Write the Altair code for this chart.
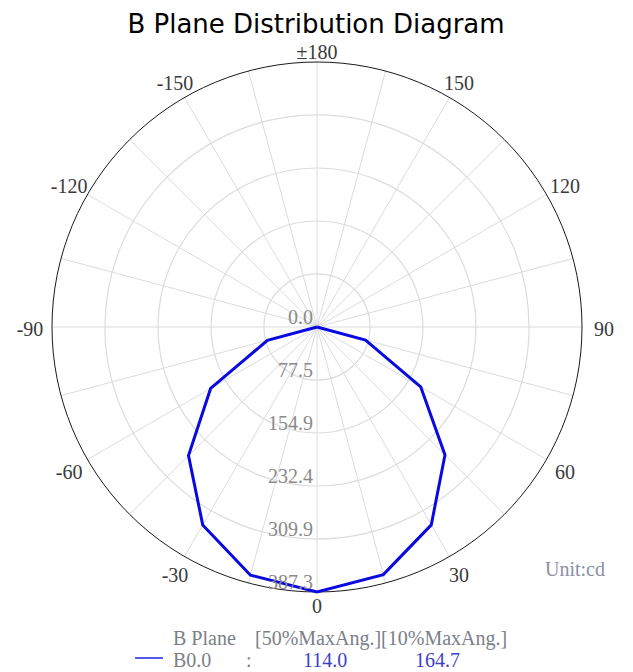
import altair as alt
import pandas as pd

# ---------------- data ----------------
title_text = "B Plane Distribution Diagram"
max_value = 387.3

# B0.0 plane intensity (cd), angle in degrees
angles = list(range(-180, 181, 15))
intensity = [0, 0, 0, 0, 0, 0, 0,
             75.0, 179.5, 265.6, 334.0, 375.5,
             387.3,
             374.6, 334.0, 264.5, 175.0, 73.4,
             0, 0, 0, 0, 0, 0, 0]

ring_values = [77.5, 154.9, 232.4, 309.9]
ring_label_values = [0.0, 77.5, 154.9, 232.4, 309.9, 387.3]
spoke_angles = list(range(0, 360, 15))
angle_label_values = [-150, -120, -90, -60, -30, 0, 30, 60, 90, 120, 150, 180]
angle_label_texts = ["-150", "-120", "-90", "-60", "-30", "0",
                     "30", "60", "90", "120", "150", "\u00b1180"]

legend_header = ["B Plane", "[50%MaxAng.][10%MaxAng.]"]
legend_series = ["B0.0", ":"]
beam_angles = [114.0, 164.7]
unit_text = "Unit:cd"

# ---------------- layout ----------------
R_PX = 265
W = 2 * R_PX
serif = "Liberation Serif"
k = max_value / R_PX  # data units per pixel

xs = alt.Scale(domain=[-max_value, max_value], nice=False, zero=False)
ys = alt.Scale(domain=[-max_value, max_value], nice=False, zero=False)
# circle symbol: radius = sqrt(size)/2  ->  size = (2 r)^2
ss = alt.Scale(type="pow", exponent=2, domain=[0, max_value],
               range=[0, (2 * R_PX) ** 2], zero=True)

curve_df = pd.DataFrame({"angle": angles, "cd": intensity})
spoke_df = pd.DataFrame({"angle": spoke_angles})
ring_df = pd.DataFrame({"r": ring_values})
outer_df = pd.DataFrame({"r": [max_value]})
rlab_df = pd.DataFrame({"r": ring_label_values})
alab_df = pd.DataFrame({"angle": angle_label_values, "label": angle_label_texts})

spokes = alt.Chart(spoke_df).transform_calculate(
    x0="0", y0="0",
    x1=f"{max_value}*sin(datum.angle*PI/180)",
    y1=f"-{max_value}*cos(datum.angle*PI/180)",
).mark_rule(color="#dcdcdc", strokeWidth=1).encode(
    x=alt.X("x0:Q", scale=xs, axis=None),
    y=alt.Y("y0:Q", scale=ys, axis=None),
    x2="x1:Q", y2="y1:Q",
)

rings = alt.Chart(ring_df).transform_calculate(x0="0", y0="0").mark_point(
    shape="circle", filled=False, color="#dcdcdc", strokeWidth=1.2, opacity=1
).encode(
    x=alt.X("x0:Q", scale=xs, axis=None),
    y=alt.Y("y0:Q", scale=ys, axis=None),
    size=alt.Size("r:Q", scale=ss, legend=None),
)

outer = alt.Chart(outer_df).transform_calculate(x0="0", y0="0").mark_point(
    shape="circle", filled=False, color="#1a1a1a", strokeWidth=1, opacity=1
).encode(
    x=alt.X("x0:Q", scale=xs, axis=None),
    y=alt.Y("y0:Q", scale=ys, axis=None),
    size=alt.Size("r:Q", scale=ss, legend=None),
)

curve = alt.Chart(curve_df).transform_calculate(
    x="datum.cd*sin(datum.angle*PI/180)",
    y="-datum.cd*cos(datum.angle*PI/180)",
).mark_line(color="#0a0ae0", strokeWidth=3, strokeJoin="miter").encode(
    x=alt.X("x:Q", scale=xs, axis=None),
    y=alt.Y("y:Q", scale=ys, axis=None),
    order="angle:Q",
)

ring_labels = alt.Chart(rlab_df).transform_calculate(
    x0="0", y="-datum.r"
).mark_text(align="right", baseline="alphabetic", dx=-4, dy=-3,
            font=serif, fontSize=20, color="#8a8a8a").encode(
    x=alt.X("x0:Q", scale=xs, axis=None),
    y=alt.Y("y:Q", scale=ys, axis=None),
    text=alt.Text("r:Q", format=".1f"),
)

angle_labels = alt.Chart(alab_df).transform_calculate(
    lr=f"(277 + 10*sqrt(abs(sin(datum.angle*PI/180))))*{k}",
).transform_calculate(
    x="datum.lr*sin(datum.angle*PI/180)",
    y="-datum.lr*cos(datum.angle*PI/180)",
).mark_text(align="center", baseline="middle", dy=3, font=serif, fontSize=20,
            color="#3a3a3a").encode(
    x=alt.X("x:Q", scale=xs, axis=None),
    y=alt.Y("y:Q", scale=ys, axis=None),
    text="label:N",
)

title = alt.Chart(pd.DataFrame({"t": [title_text]})).mark_text(
    align="center", baseline="alphabetic", font="DejaVu Sans", fontSize=26,
    color="#000000"
).encode(x=alt.value(264), y=alt.value(-29), text="t:N")

# legend block below the diagram
def label(txt, x, y, color="#7a7f88"):
    return alt.Chart(pd.DataFrame({"t": [txt]})).mark_text(
        align="left", baseline="alphabetic", font=serif, fontSize=20, color=color
    ).encode(x=alt.value(x), y=alt.value(y), text="t:N")

def number(v, x, y):
    return alt.Chart(pd.DataFrame({"v": [v]})).mark_text(
        align="left", baseline="alphabetic", font=serif, fontSize=20, color="#3f3fc8"
    ).encode(x=alt.value(x), y=alt.value(y), text=alt.Text("v:Q", format=".1f"))

hdr1 = label(legend_header[0], 121, 583)
hdr2 = label(legend_header[1], 203, 583)
ser1 = label(legend_series[0], 121, 605)
ser2 = label(legend_series[1], 194, 605)
val1 = number(beam_angles[0], 251, 605)
val2 = number(beam_angles[1], 363, 605)
swatch = alt.Chart(pd.DataFrame({"s": [legend_series[0]]})).mark_rule(
    color="#2020e0", strokeWidth=1.5
).encode(x=alt.value(83), x2=alt.value(111), y=alt.value(596))
unit = label(unit_text, 493, 514, color="#8a90a2")

chart = alt.layer(
    spokes, rings, outer, curve, ring_labels, angle_labels, title,
    hdr1, hdr2, ser1, ser2, val1, val2, swatch, unit,
).properties(
    width=W, height=W,
    autosize=alt.AutoSizeParams(type="none"),
    padding={"left": 44, "top": 54, "right": 43, "bottom": 90},
).configure(
    background="white",
    view=alt.ViewConfig(strokeWidth=0, stroke="transparent"),
)

chart.save("out.html", embed_options={"renderer": "svg", "actions": False})
